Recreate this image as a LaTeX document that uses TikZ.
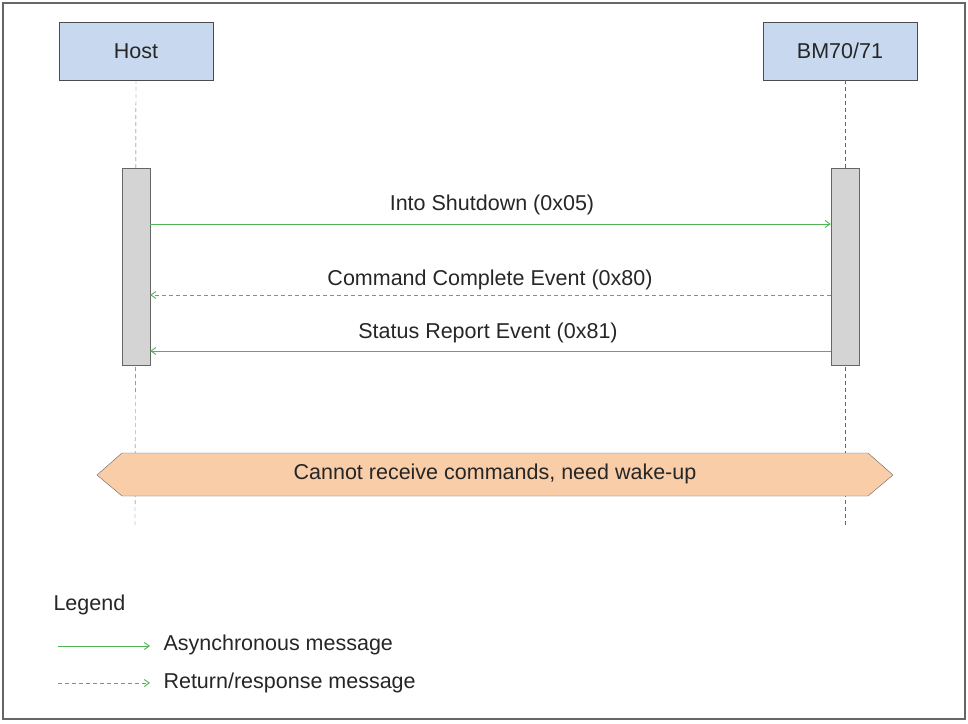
\documentclass[tikz,border=0pt]{standalone}
\usepackage{fontspec}
\setmainfont{Liberation Sans}
\usetikzlibrary{arrows.meta}
\definecolor{hdr}{HTML}{C8D9EF}
\definecolor{msg}{HTML}{4FB453}
\definecolor{ban}{HTML}{F8CDA8}
\begin{document}
\begin{tikzpicture}[x=1pt,y=-1pt,
  every node/.style={font=\fontsize{21.5}{25}\selectfont,text=black!85},
  actor/.style={draw=black!70,fill=hdr,minimum width=154pt,minimum height=58pt,inner sep=0},
  act/.style={draw=black!60,fill=black!17,minimum width=28pt,minimum height=197pt,inner sep=0},
  life/.style={draw=black!60,dashed,dash pattern=on 4pt off 3pt},
  async/.style={draw=msg,line width=0.9pt,-{Straight Barb[length=5pt,width=7pt]}},
  ret/.style={draw=msg,line width=0.9pt,dashed,dash pattern=on 4pt off 3pt,-{Straight Barb[length=5pt,width=7pt]}},
  lbl/.style={inner sep=1pt}]
\useasboundingbox (0,0) rectangle (968,723);
\draw[black!60,line width=1.5pt] (3,3) rectangle (965,719);
\node[actor] (host) at (136,51) {Host};
\node[actor] (bm) at (840,51) {BM70/71};
\coordinate (hend) at (135,528);
\coordinate (bend) at (845,528);
\draw[life] (host.south) -- (hend);
\draw[life] (bm.south -| bend) -- (bend);
\node[act] (ha) at (136,266.5) {};
\node[act] (ba) at (845,266.5) {};
\draw[async] (ha.east |- 0,224) coordinate (a1) -- (ba.west |- 0,224) coordinate (b1);
\node[lbl] (t1) at (492,205) {Into Shutdown (0x05)};
\node[lbl] (t2) at (490,280) {Command Complete Event (0x80)};
\draw[ret] (ba.west |- 0,295) coordinate (b2) -- (ha.east |- 0,295) coordinate (a2);
\draw[async] (ba.west |- 0,351) coordinate (b3) -- (ha.east |- 0,351) coordinate (a3);
\node[lbl] (t3) at (488,333) {Status Report Event (0x81)};
\draw[black!60,fill=ban] (97,475) -- (122,453) -- (868,453) -- (893,475) -- (868,496) -- (122,496) -- cycle;
\node (bt) at (495,474) {Cannot receive commands, need wake-up};
\node[anchor=west] (lg) at (50,605) {Legend};
\coordinate (l1a) at (58,646); \coordinate (l1b) at (150,646);
\coordinate (l2a) at (58,683); \coordinate (l2b) at (150,683);
\draw[async] (l1a) -- (l1b);
\draw[ret] (l2a) -- (l2b);
\node[anchor=west] (lt1) at (160,645) {Asynchronous message};
\node[anchor=west] (lt2) at (160,683) {Return/response message};
\end{tikzpicture}
\end{document}
